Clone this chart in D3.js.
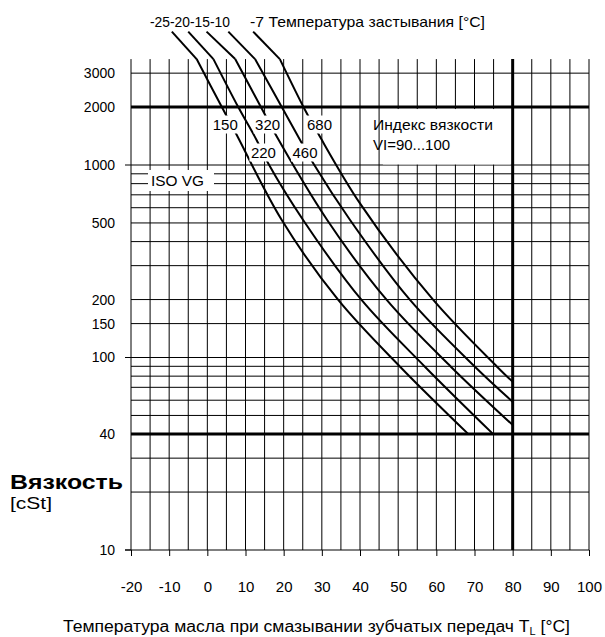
<!DOCTYPE html>
<html><head><meta charset="utf-8">
<script src="https://cdn.jsdelivr.net/npm/d3@7"></script>
<style>body{margin:0;background:#fff}svg{display:block}text{font-family:"Liberation Sans",Arial,sans-serif;fill:#000}</style>
</head><body>
<svg id="c" width="605" height="637"></svg>
<script>
// ---- data ----
const tempTicks = [-20,-10,0,10,20,30,40,50,60,70,80,90,100];
const tempGrid = [-20,-15,-10,-5,0,5,10,15,20,25,30,35,40,45,50,55,60,65,70,75,80,85,90,95,100];
const viscTicks = [10,40,100,150,200,500,1000,2000,3000];
const viscGrid = [20,30,40,50,60,70,80,90,100,150,200,300,400,500,600,700,800,900,1000,2000,3000];
const thickVisc = [40,2000];
const thickTemp = [80];
const isoGrades = [150,220,320,460,680];
const pourPoints = [-25,-20,-15,-10,-7];
// leader (top) points for each grade: [T, cSt]
const leaders = [
  [[-9.3,4930],[-2.8,3550]],
  [[-5.0,4930],[1.6,3550]],
  [[-0.2,4930],[7.3,3550]],
  [[5.5,4930],[12.5,3550]],
  [[12.0,4930],[19.0,3550]]
];
// viscosity-temperature curves: [T, cSt]
const curves = [
  [[-2.8,3550],[3.8,2000],[7.3,1484],[19.5,518],[34.3,199],[50.5,89.6],[68.4,40]],
  [[1.6,3550],[8.1,2000],[12.9,1349],[15.9,1024],[25.1,518],[40.4,199],[57.0,89.6],[74.9,40]],
  [[7.3,3550],[14.7,1892],[17.7,1461],[31.4,518],[47.0,199],[63.8,89.6],[80,44.6]],
  [[12.5,3550],[19.5,2000],[24.3,1349],[27.7,1024],[37.4,518],[53.1,199],[70.1,89.6],[80,58.9]],
  [[19.0,3550],[25.6,1931],[29.0,1461],[40.0,632],[59.2,199],[75.9,89.6],[80,74.8]]
];
// grade label anchors [T, cSt]
const gradeLabelPos = [[4.7,1623],[14.7,1161],[15.8,1623],[25.6,1161],[29.4,1623]];
const topVisc = 3550;

// ---- drawing ----
const svg = d3.select("#c");
const x = d3.scaleLinear().domain([-20,100]).range([131,589]);
const y = d3.scaleLog().domain([10,1000]).range([550,165]);
const yTop = y(topVisc);
const FF = "Liberation Sans, Arial, sans-serif";

const g = svg.append("g");
g.selectAll("line.vg").data(tempGrid).join("line")
  .attr("x1",d=>x(d)).attr("x2",d=>x(d)).attr("y1",yTop).attr("y2",y(10))
  .attr("stroke","#000").attr("stroke-width",d=>thickTemp.includes(d)?3:1);
g.selectAll("line.hg").data(viscGrid).join("line")
  .attr("x1",x(-20)).attr("x2",x(100)).attr("y1",d=>y(d)).attr("y2",d=>y(d))
  .attr("stroke","#000").attr("stroke-width",d=>thickVisc.includes(d)?3:1);

const xAxis = d3.axisBottom(x).tickValues(tempTicks).tickSize(6).tickPadding(25).tickFormat(d=>String(d));
const ax = svg.append("g").attr("transform",`translate(0,${y(10)})`).call(xAxis);
ax.select(".domain").attr("d",`M${x(-20)-6},0H${x(100)}`);
ax.selectAll("text").attr("font-size",15).attr("font-family",FF);
const yAxis = d3.axisLeft(y).tickValues(viscTicks).tickSize(0).tickPadding(16).tickFormat(d=>String(d));
const ay = svg.append("g").attr("transform",`translate(${x(-20)},0)`).call(yAxis);
ay.select(".domain").remove();
ay.selectAll("text").attr("font-size",14).attr("font-family",FF);
svg.selectAll("line.lt").data([10,100,1000]).join("line")
  .attr("x1",x(-20)-6).attr("x2",x(-20)).attr("y1",d=>y(d)).attr("y2",d=>y(d))
  .attr("stroke","#000");

// white boxes
svg.append("rect").attr("x",148).attr("y",170).attr("width",66).attr("height",21).attr("fill","#fff");
svg.append("text").attr("x",151).attr("y",186).attr("font-size",15).attr("textLength",53).attr("lengthAdjust","spacingAndGlyphs").text("ISO VG");
svg.append("rect").attr("x",x(46)).attr("y",y(2000)+2).attr("width",x(79.5)-x(46)).attr("height",y(1000)-y(2000)-2.5).attr("fill","#fff");
svg.append("text").attr("x",373).attr("y",130).attr("font-size",15).attr("textLength",120).attr("lengthAdjust","spacingAndGlyphs").text("Индекс вязкости");
svg.append("text").attr("x",373).attr("y",150).attr("font-size",15).text("VI=90...100");

// curves
const line = d3.line().x(d=>x(d[0])).y(d=>y(d[1])).curve(d3.curveCatmullRom.alpha(0.5));
svg.selectAll("path.cv").data(curves).join("path")
  .attr("d",line).attr("fill","none").attr("stroke","#000").attr("stroke-width",2);
const lline = d3.line().x(d=>x(d[0])).y(d=>y(d[1]));
svg.selectAll("path.ld").data(leaders).join("path")
  .attr("d",lline).attr("fill","none").attr("stroke","#000").attr("stroke-width",2);

// grade labels
const gl = svg.selectAll("g.gl").data(isoGrades).join("g")
  .attr("transform",(d,i)=>`translate(${x(gradeLabelPos[i][0])},${y(gradeLabelPos[i][1])})`);
gl.append("rect").attr("x",-14).attr("y",-9).attr("width",28).attr("height",18).attr("fill","#fff");
gl.append("text").attr("text-anchor","middle").attr("y",5).attr("font-size",15).text(d=>d);

// top pour point labels
svg.append("text").attr("x",150).attr("y",27).attr("font-size",14).attr("textLength",80).attr("lengthAdjust","spacingAndGlyphs").text(pourPoints.slice(0,4).join(""));
svg.append("text").attr("x",250).attr("y",27).attr("font-size",15).attr("textLength",235).attr("lengthAdjust","spacingAndGlyphs").text(pourPoints[4]+" Температура застывания [°C]");

// axis titles
svg.append("text").attr("x",10).attr("y",489).attr("font-size",20).attr("font-weight","bold").attr("textLength",113).attr("lengthAdjust","spacingAndGlyphs").text("Вязкость");
svg.append("text").attr("x",10).attr("y",509).attr("font-size",17).attr("textLength",42).attr("lengthAdjust","spacingAndGlyphs").text("[cSt]");
const t = svg.append("text").attr("x",63).attr("y",632).attr("font-size",16).attr("textLength",507).attr("lengthAdjust","spacingAndGlyphs");
t.append("tspan").text("Температура масла при смазывании зубчатых передач T");
t.append("tspan").attr("font-size",10).attr("dy",3).text("L");
t.append("tspan").attr("dy",-3).text(" [°C]");
</script>
</body></html>
